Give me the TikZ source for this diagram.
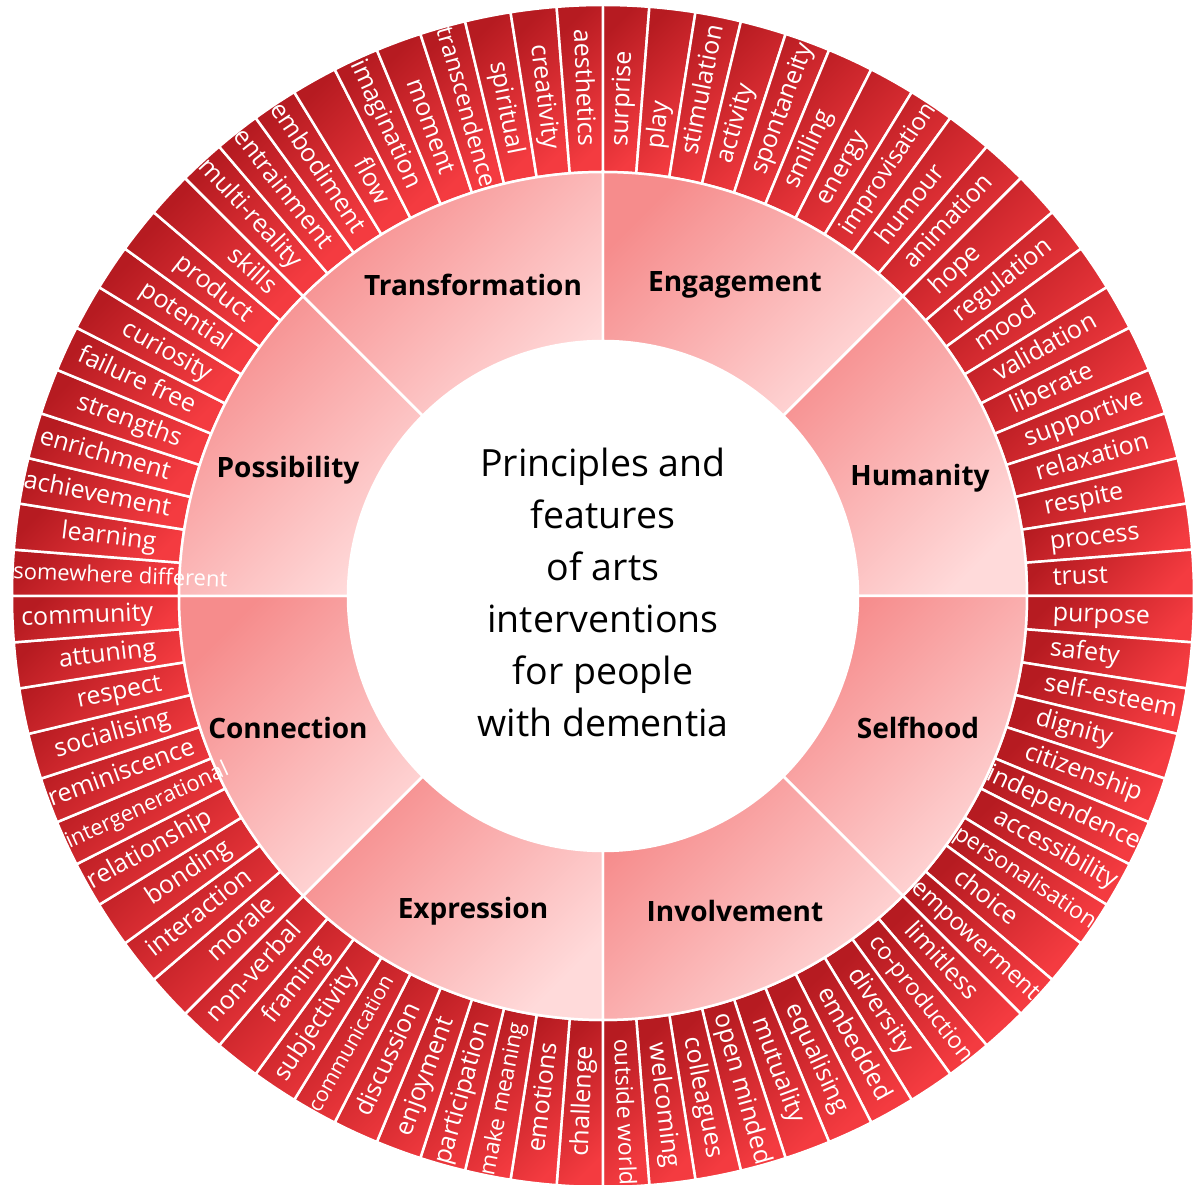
\documentclass[tikz,border=0pt]{standalone}
\usepackage{fontspec}
\setmainfont{Open Sans}
\definecolor{rdark}{HTML}{B61B21}
\definecolor{rlight}{HTML}{F43B40}
\definecolor{pdark}{HTML}{F68C8C}
\definecolor{plight}{HTML}{FFDADA}
\tikzset{
  outerwedge/.style={top color=rdark, bottom color=rlight, shading angle=45, draw=white, line width=2.5pt},
  midwedge/.style={top color=pdark, bottom color=plight, shading angle=45, draw=white, line width=2.5pt},
  midlabel/.style={font=\fontsize{28}{32}\selectfont\bfseries, text=black, inner sep=0pt},
  wordlabel/.style={text=white, inner sep=0pt},
  centertext/.style={align=center, font=\fontsize{37.5}{52}\selectfont, text=black},
}
\newdimen\wpos
% measure each word outside the picture and store the radius of its inner end
\newcommand{\measureW}[3]{%
  \setbox0=\hbox{\fontsize{#3}{#3}\selectfont #2}%
  \wpos=590pt\relax
  \advance\wpos by -\wd0\relax
  \ifdim\wpos>450pt\relax \wpos=450pt\relax\fi
  \expandafter\xdef\csname wr#1\endcsname{\the\wpos}%
}
\newcommand{\placeW}[3]{%
  \pgfmathsetmacro{\wang}{90-4.5*(#1+0.5)}%
  \edef\wrad{\csname wr#1\endcsname}%
  \ifdim\wang pt>-90pt\relax
    \node[wordlabel, font=\fontsize{#3}{#3}\selectfont, text height={0.75*#3pt}, text depth={0.21*#3pt}, anchor=west, rotate=\wang] (w#1) at (\wang:\wrad) {#2};
  \else
    \pgfmathsetmacro{\wrot}{\wang+180}%
    \node[wordlabel, font=\fontsize{#3}{#3}\selectfont, text height={0.75*#3pt}, text depth={0.21*#3pt}, anchor=east, rotate=\wrot] (w#1) at (\wang:\wrad) {#2};
  \fi
}
\newcommand{\wordlist}{%
\W{0}{surprise}{25}%
\W{1}{play}{25}%
\W{2}{stimulation}{25}%
\W{3}{activity}{25}%
\W{4}{spontaneity}{25}%
\W{5}{smiling}{25}%
\W{6}{energy}{25}%
\W{7}{improvisation}{24}%
\W{8}{humour}{25}%
\W{9}{animation}{25}%
\W{10}{hope}{25}%
\W{11}{regulation}{25}%
\W{12}{mood}{25}%
\W{13}{validation}{25}%
\W{14}{liberate}{25}%
\W{15}{supportive}{25}%
\W{16}{relaxation}{25}%
\W{17}{respite}{25}%
\W{18}{process}{25}%
\W{19}{trust}{25}%
\W{20}{purpose}{25}%
\W{21}{safety}{25}%
\W{22}{self-esteem}{25}%
\W{23}{dignity}{25}%
\W{24}{citizenship}{25}%
\W{25}{independence}{25}%
\W{26}{accessibility}{25}%
\W{27}{personalisation}{23}%
\W{28}{choice}{25}%
\W{29}{empowerment}{24}%
\W{30}{limitless}{25}%
\W{31}{co-production}{23.5}%
\W{32}{diversity}{25}%
\W{33}{embedded}{25}%
\W{34}{equalising}{25}%
\W{35}{mutuality}{25}%
\W{36}{open minded}{25}%
\W{37}{colleagues}{25}%
\W{38}{welcoming}{25}%
\W{39}{outside world}{23}%
\W{40}{challenge}{25}%
\W{41}{emotions}{25}%
\W{42}{make meaning}{22.5}%
\W{43}{participation}{25}%
\W{44}{enjoyment}{25}%
\W{45}{discussion}{25}%
\W{46}{communication}{21}%
\W{47}{subjectivity}{25}%
\W{48}{framing}{25}%
\W{49}{non-verbal}{25}%
\W{50}{morale}{25}%
\W{51}{interaction}{25}%
\W{52}{bonding}{25}%
\W{53}{relationship}{25}%
\W{54}{intergenerational}{22}%
\W{55}{reminiscence}{25}%
\W{56}{socialising}{25}%
\W{57}{respect}{25}%
\W{58}{attuning}{25}%
\W{59}{community}{25}%
\W{60}{somewhere different}{22}%
\W{61}{learning}{25}%
\W{62}{achievement}{25}%
\W{63}{enrichment}{25}%
\W{64}{strengths}{25}%
\W{65}{failure free}{25}%
\W{66}{curiosity}{25}%
\W{67}{potential}{25}%
\W{68}{product}{25}%
\W{69}{skills}{25}%
\W{70}{multi-reality}{25}%
\W{71}{entrainment}{25}%
\W{72}{embodiment}{25}%
\W{73}{flow}{25}%
\W{74}{imagination}{25}%
\W{75}{moment}{25}%
\W{76}{transcendence}{24}%
\W{77}{spiritual}{25}%
\W{78}{creativity}{25}%
\W{79}{aesthetics}{25}%
}
\begin{document}
\let\W\measureW
\wordlist
\begin{tikzpicture}[x=1pt,y=1pt]
\useasboundingbox (-603,-589) rectangle (592,596);
\fill[white] (-603,-589) rectangle (592,596);
% outer ring wedges
\foreach \k in {0,...,79}{
  \pgfmathsetmacro{\aa}{90-4.5*\k}
  \pgfmathsetmacro{\ab}{90-4.5*(\k+1)}
  \shadedraw[outerwedge] (\aa:424) arc[start angle=\aa, end angle=\ab, radius=424] -- (\ab:591) arc[start angle=\ab, end angle=\aa, radius=591] -- cycle;
}
% middle ring wedges
\foreach \k in {0,...,7}{
  \pgfmathsetmacro{\aa}{90-45*\k}
  \pgfmathsetmacro{\ab}{90-45*(\k+1)}
  \shadedraw[midwedge] (\aa:255) arc[start angle=\aa, end angle=\ab, radius=255] -- (\ab:424) arc[start angle=\ab, end angle=\aa, radius=424] -- cycle;
}
% middle labels
\node[midlabel] (engagement) at (132,311) {Engagement};
\node[midlabel] (humanity) at (317,118) {Humanity};
\node[midlabel] (selfhood) at (315,-132) {Selfhood};
\node[midlabel] (involvement) at (132,-315) {Involvement};
\node[midlabel] (expression) at (-130,-315) {Expression};
\node[midlabel] (connection) at (-315,-132) {Connection};
\node[midlabel] (possibility) at (-315,126) {Possibility};
\node[midlabel] (transformation) at (-130,311) {Transformation};
% centre
\node[centertext] (title) at (0,4) {Principles and\\features\\of arts\\interventions\\for people\\with dementia};
% outer words
\let\W\placeW
\wordlist
\end{tikzpicture}
\end{document}
